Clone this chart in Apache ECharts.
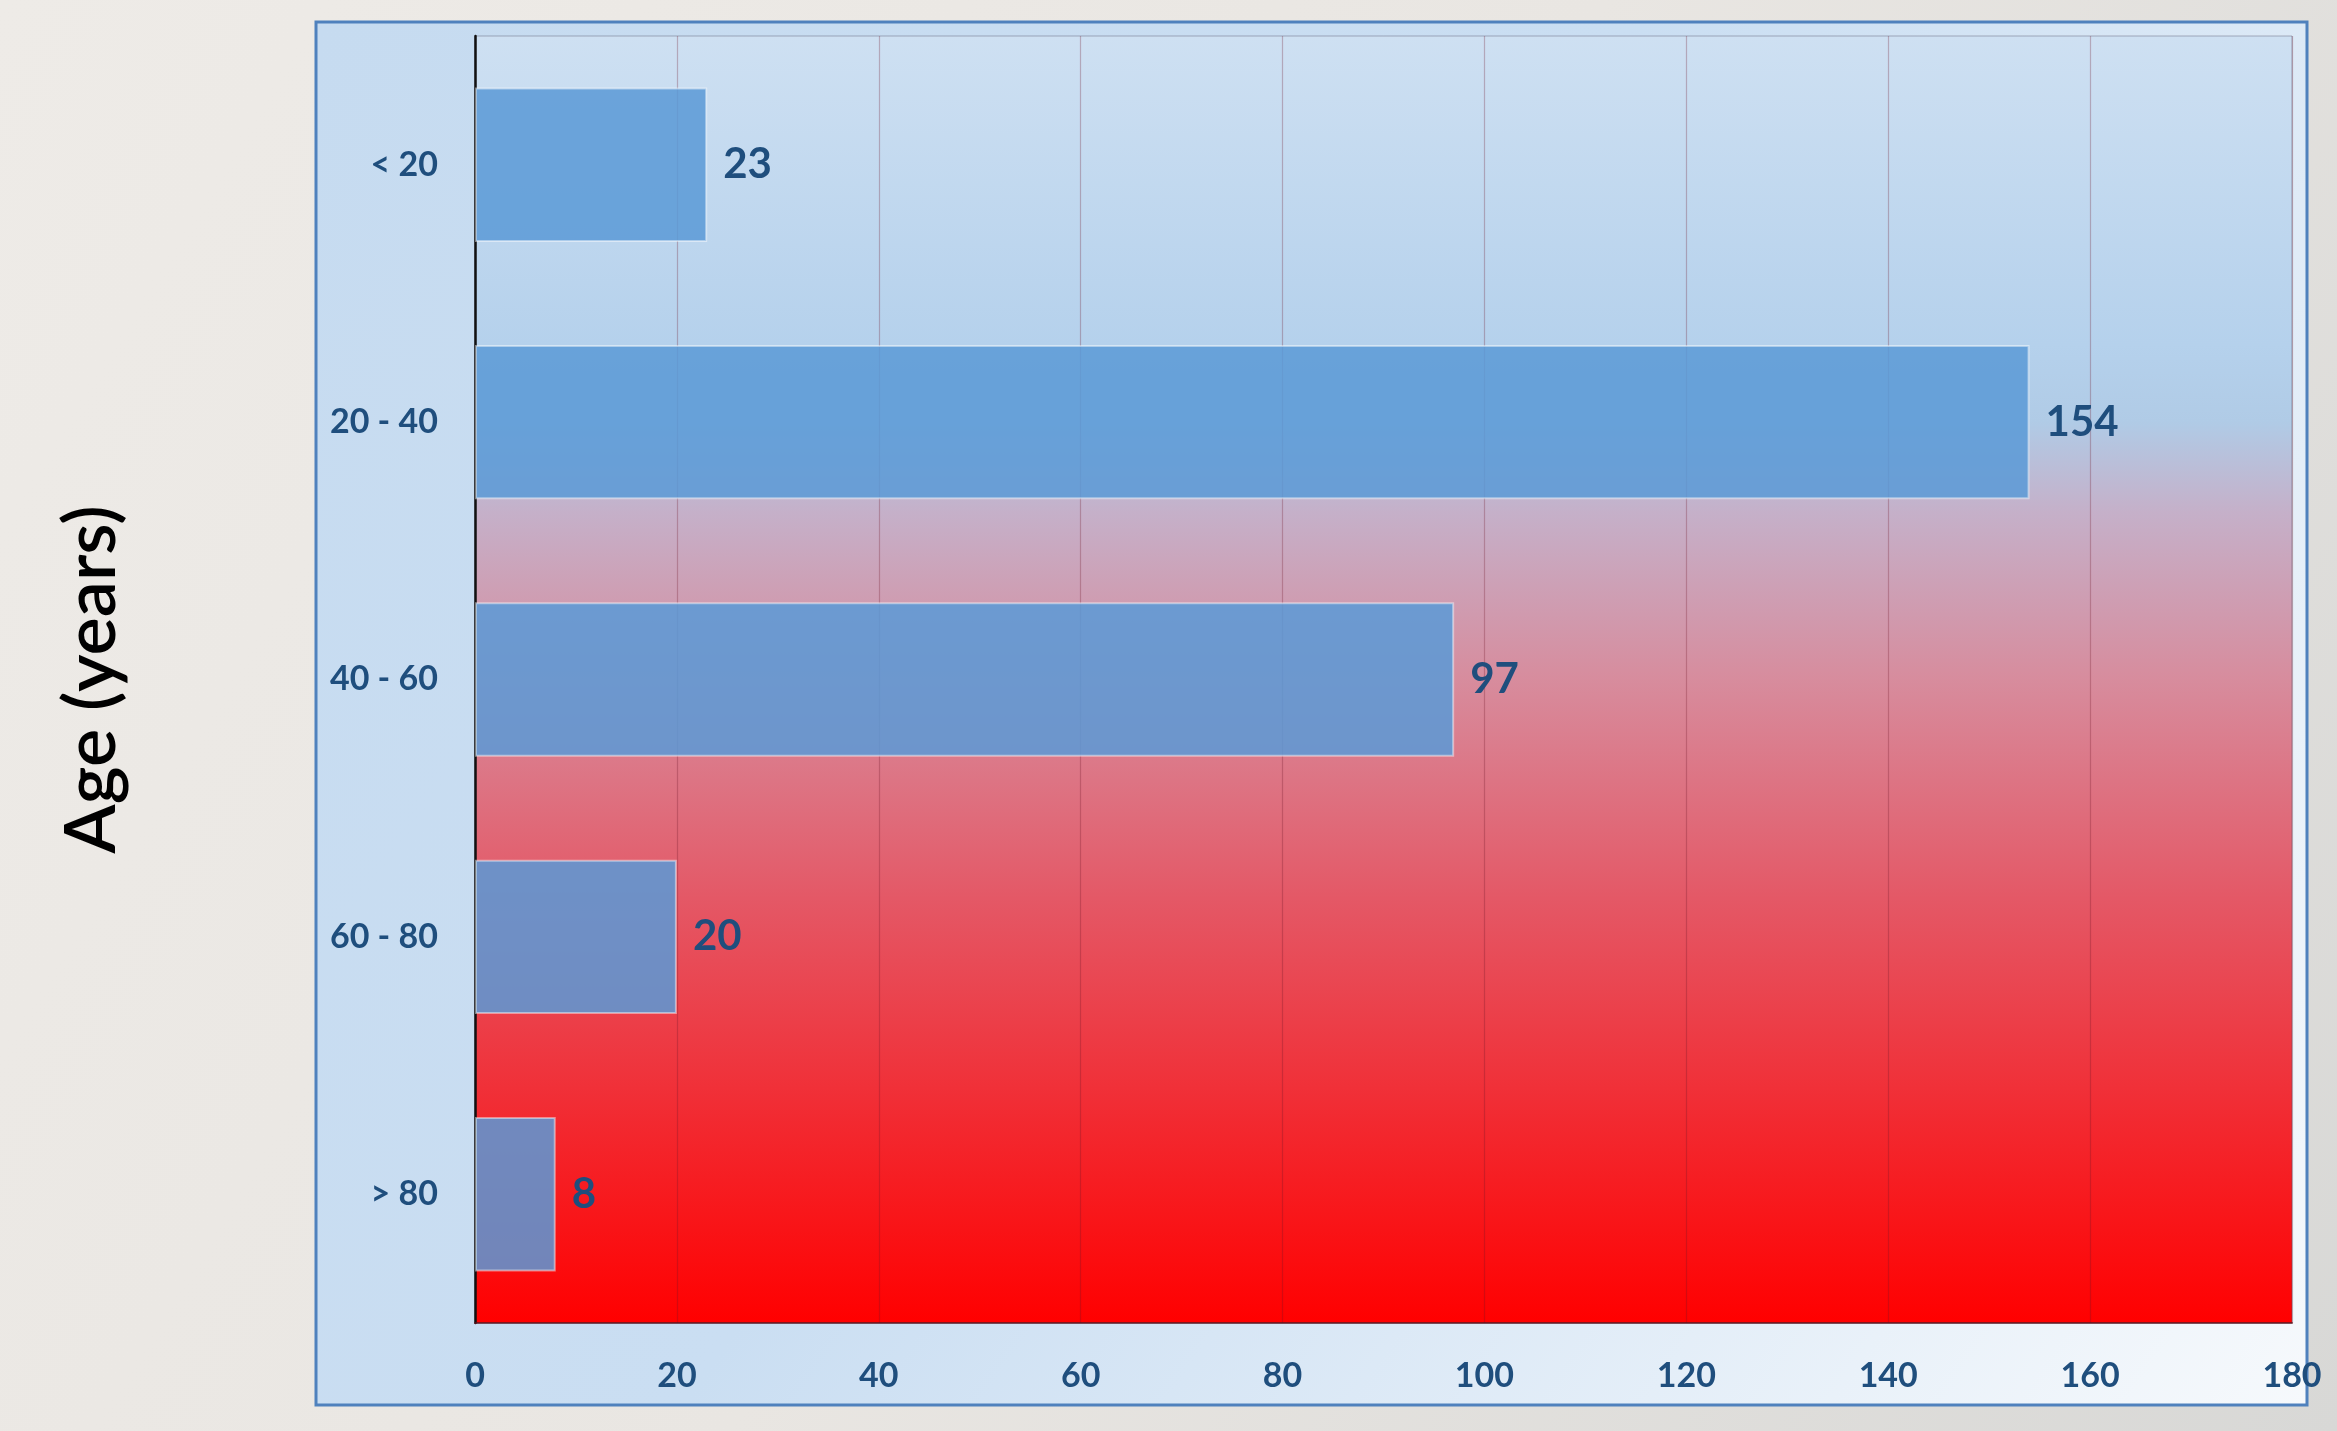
<!DOCTYPE html>
<html>
<head>
<meta charset="utf-8">
<script src="https://cdn.jsdelivr.net/npm/echarts@6/dist/echarts.min.js"></script>
<style>
html,body{margin:0;padding:0;width:2337px;height:1431px;overflow:hidden;background:#ebe8e4;}
#chart{width:2337px;height:1431px;}
</style>
</head>
<body>
<div id="chart"></div>
<script>
const categories = ['< 20', '20 - 40', '40 - 60', '60 - 80', '> 80'];
const values = [23, 154, 97, 20, 8];
const xTicks = [0, 20, 40, 60, 80, 100, 120, 140, 160, 180];
const axisTitle = 'Age (years)';

const chart = echarts.init(document.getElementById('chart'), null, {renderer: 'canvas'});
const labelColor = '#1f4e7d';
const font = 'Lato, "Open Sans", "Noto Sans", sans-serif';

const option = {
  backgroundColor: {
    type: 'linear', x: 0, y: 0, x2: 1, y2: 1,
    colorStops: [
      {offset: 0, color: '#eeebe7'},
      {offset: 0.5, color: '#e9e6e2'},
      {offset: 1, color: '#d8d8d6'}
    ]
  },
  animation: false,
  graphic: [
    {
      type: 'rect', z: -10,
      shape: {x: 316, y: 22, width: 1991, height: 1383},
      style: {
        fill: {
          type: 'linear', x: 0, y: 0, x2: 1, y2: 1,
          colorStops: [
            {offset: 0, color: '#c6dbf0'},
            {offset: 0.45, color: '#cadef2'},
            {offset: 1, color: '#f6f9fc'}
          ]
        },
        stroke: '#4f81bd', lineWidth: 3
      }
    }
  ],
  grid: {
    left: 475, top: 36, right: 45, bottom: 108,
    show: true,
    borderWidth: 1,
    borderColor: 'rgba(90,90,110,0.45)',
    backgroundColor: {
      type: 'linear', x: 0, y: 0, x2: 0, y2: 1,
      colorStops: [
        {offset: 0, color: '#cee0f2'},
        {offset: 0.24, color: '#b5d1ec'},
        {offset: 0.3, color: '#b0cbe6'},
        {offset: 0.37, color: '#c5b0c9'},
        {offset: 0.5, color: '#d78c9d'},
        {offset: 0.67, color: '#e45866'},
        {offset: 0.84, color: '#f22a31'},
        {offset: 1, color: '#ff0000'}
      ]
    }
  },
  xAxis: {
    type: 'value',
    min: 0, max: 180, interval: 20,
    axisLine: {show: true, lineStyle: {color: 'rgba(90,20,30,0.7)', width: 2}},
    axisTick: {show: false},
    splitLine: {show: true, lineStyle: {color: 'rgba(110,20,40,0.28)', width: 1.2}},
    axisLabel: {
      color: labelColor, fontFamily: font, fontWeight: 'bold', fontSize: 34, margin: 36,
      formatter: v => xTicks.includes(v) ? String(v) : ''
    }
  },
  yAxis: {
    type: 'category',
    inverse: true,
    data: categories,
    name: axisTitle,
    nameLocation: 'middle',
    nameRotate: 90,
    nameGap: 347,
    nameTextStyle: {color: '#000', fontFamily: font, fontSize: 72, fontWeight: 600},
    axisLine: {show: true, lineStyle: {color: '#111', width: 2.5}},
    axisTick: {show: false},
    axisLabel: {color: labelColor, fontFamily: font, fontWeight: 'bold', fontSize: 34, margin: 37}
  },
  series: [{
    type: 'bar',
    data: values,
    barCategoryGap: '40%',
    itemStyle: {
      color: 'rgba(91,154,214,0.86)',
      borderColor: 'rgba(255,255,255,0.45)',
      borderWidth: 2
    },
    label: {
      show: true, position: 'right', distance: 16,
      color: labelColor, fontFamily: font, fontWeight: 'bold', fontSize: 42
    }
  }]
};
chart.setOption(option);
</script>
</body>
</html>
